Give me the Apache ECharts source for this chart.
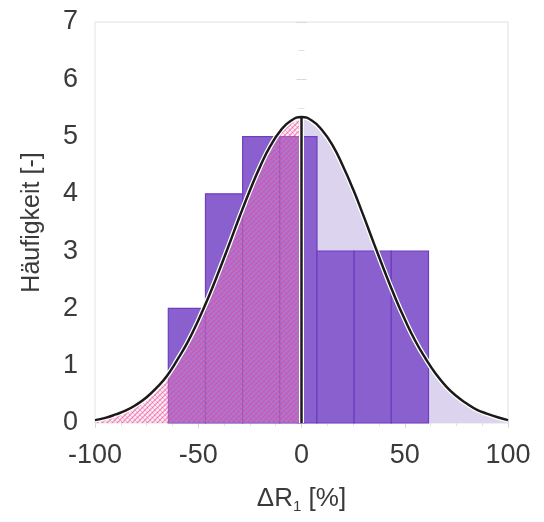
<!DOCTYPE html>
<html>
<head>
<meta charset="utf-8">
<script src="https://cdn.jsdelivr.net/npm/echarts@6/dist/echarts.min.js"></script>
<style>
html,body{margin:0;padding:0;background:#ffffff;}
#chart{width:544px;height:522px;}
</style>
</head>
<body>
<div id="chart"></div>
<script>
// Histogram bins (edges in %) and counts
var binEdges = [-64.5, -46.5, -28.5, -10.5, 7.5, 25.5, 43.5, 61.5];
var binCounts = [2, 4, 5, 5, 3, 3, 3];

// Fitted density curve (x in %, y in counts)
var curveX = [-100,-95,-90,-85,-80,-75,-70,-65,-60,-55,-50,-45,-40,-35,-30,-25,-20,-15,-10,-5,0,
              5,10,15,20,25,30,35,40,45,50,55,60,65,70,75,80,85,90,95,100];
var curveY = [0.05,0.09,0.15,0.22,0.32,0.45,0.62,0.83,1.11,1.42,1.79,2.20,2.65,3.12,3.60,4.06,4.48,4.84,5.11,5.28,5.34,
              5.28,5.11,4.85,4.49,4.08,3.62,3.14,2.67,2.22,1.81,1.44,1.13,0.86,0.64,0.47,0.34,0.23,0.16,0.10,0.05];

// Axis tick labels
var xTicks = [-100, -50, 0, 50, 100];
var yTicks = [0, 1, 2, 3, 4, 5, 6, 7];

var FONT = "'Liberation Sans', Arial, sans-serif";

var curvePts = curveX.map(function (x, i) { return [x, curveY[i]]; });
var leftPts = curvePts.filter(function (p) { return p[0] <= 0; });
var rightPts = curvePts.filter(function (p) { return p[0] >= 0; });
var peakY = curveY[curveX.indexOf(0)];

var bars = binCounts.map(function (c, i) { return [binEdges[i], binEdges[i + 1], c]; });

// hatch pattern for left half
function makeHatch() {
  var n = 5;
  var c = document.createElement('canvas');
  c.width = n; c.height = n;
  var g = c.getContext('2d');
  g.fillStyle = 'rgba(245,190,215,0.25)';
  g.fillRect(0, 0, n, n);
  g.strokeStyle = 'rgba(240,110,170,0.45)';
  g.lineWidth = 1;
  g.beginPath();
  g.moveTo(-n, 0); g.lineTo(2 * n, 3 * n);
  g.moveTo(0, -n); g.lineTo(3 * n, 2 * n);
  g.moveTo(-n, -n); g.lineTo(2 * n, 2 * n);
  g.stroke();
  g.strokeStyle = 'rgba(238,60,150,0.55)';
  g.lineWidth = 1.3;
  g.beginPath();
  g.moveTo(-n, n); g.lineTo(n, -n);
  g.moveTo(0, 2 * n); g.lineTo(2 * n, 0);
  g.moveTo(-n, 2 * n); g.lineTo(2 * n, -n);
  g.stroke();
  return c;
}

var chart = echarts.init(document.getElementById('chart'), null, {renderer: 'canvas'});

var axisLabel = {color: '#3a3a3a', fontSize: 27, fontFamily: FONT};

chart.setOption({
  backgroundColor: '#ffffff',
  animation: false,
  grid: {left: 95, right: 36, top: 22, bottom: 99, show: true, borderColor: '#e2e2e2', borderWidth: 1},
  xAxis: [{
    type: 'value', min: xTicks[0], max: xTicks[xTicks.length - 1], interval: 50,
    axisLine: {show: false},
    axisTick: {show: true, inside: true, length: 5, lineStyle: {color: '#d8d8d8'}},
    minorTick: {show: true, splitNumber: 4, length: 3, lineStyle: {color: '#e0e0e0'}},
    splitLine: {show: false},
    axisLabel: Object.assign({margin: 19}, axisLabel),
    name: '{a|ΔR}{s|1}{a| [%]}',
    nameLocation: 'middle', nameGap: 60,
    nameTextStyle: {
      color: '#3a3a3a', fontFamily: FONT,
      rich: {
        a: {fontSize: 26, fontFamily: FONT, color: '#3a3a3a'},
        s: {fontSize: 15, fontFamily: FONT, color: '#3a3a3a', padding: [16, 0, 0, 0]}
      }
    }
  }, {
    type: 'value', position: 'top', min: -100, max: 100, interval: 50,
    axisLine: {show: false}, axisLabel: {show: false},
    axisTick: {show: true, inside: true, length: 5, lineStyle: {color: '#d8d8d8'}},
    minorTick: {show: true, splitNumber: 4, length: 3, lineStyle: {color: '#e0e0e0'}},
    splitLine: {show: false}
  }],
  yAxis: [{
    type: 'value', min: yTicks[0], max: yTicks[yTicks.length - 1], interval: 1,
    axisLine: {show: false},
    axisTick: {show: true, inside: true, length: 5, lineStyle: {color: '#d8d8d8'}},
    minorTick: {show: true, splitNumber: 2, length: 3, lineStyle: {color: '#e0e0e0'}},
    splitLine: {show: false},
    axisLabel: Object.assign({margin: 17}, axisLabel),
    name: 'Häufigkeit [-]',
    nameLocation: 'middle', nameGap: 50,
    nameTextStyle: {color: '#3a3a3a', fontSize: 25, fontFamily: FONT}
  }, {
    type: 'value', position: 'right', min: 0, max: 7, interval: 1,
    axisLine: {show: false}, axisLabel: {show: false},
    axisTick: {show: true, inside: true, length: 5, lineStyle: {color: '#d8d8d8'}},
    minorTick: {show: true, splitNumber: 2, length: 3, lineStyle: {color: '#e0e0e0'}},
    splitLine: {show: false}
  }],
  series: [
    {
      type: 'line', data: rightPts, symbol: 'none', z: 1,
      lineStyle: {width: 0, opacity: 0},
      areaStyle: {color: '#dcd4ef', opacity: 1}
    },
    {
      type: 'custom', z: 2, data: bars,
      encode: {x: [0, 1], y: 2},
      renderItem: function (params, api) {
        var p0 = api.coord([api.value(0), api.value(2)]);
        var p1 = api.coord([api.value(1), 0]);
        return {
          type: 'rect',
          shape: {x: p0[0], y: p0[1], width: p1[0] - p0[0], height: p1[1] - p0[1]},
          style: {fill: '#8a60cf', stroke: '#6b3fbf', lineWidth: 1.2}
        };
      }
    },
    {
      type: 'line', data: leftPts, symbol: 'none', z: 3,
      lineStyle: {width: 0, opacity: 0},
      areaStyle: {color: {image: makeHatch(), repeat: 'repeat'}, opacity: 1}
    },
    {
      type: 'line', data: curvePts, symbol: 'none', smooth: true, z: 4,
      lineStyle: {color: '#ffffff', width: 5}
    },
    {
      type: 'line', data: curvePts, symbol: 'none', smooth: true, z: 5,
      lineStyle: {color: '#1a1a1a', width: 2.5}
    },
    {
      type: 'line', data: [[0, 0], [0, peakY]], symbol: 'none', z: 4,
      lineStyle: {color: '#ffffff', width: 5}
    },
    {
      type: 'line', data: [[0, 0], [0, peakY]], symbol: 'none', z: 5,
      lineStyle: {color: '#1a1a1a', width: 2.5}
    }
  ]
});
</script>
</body>
</html>
